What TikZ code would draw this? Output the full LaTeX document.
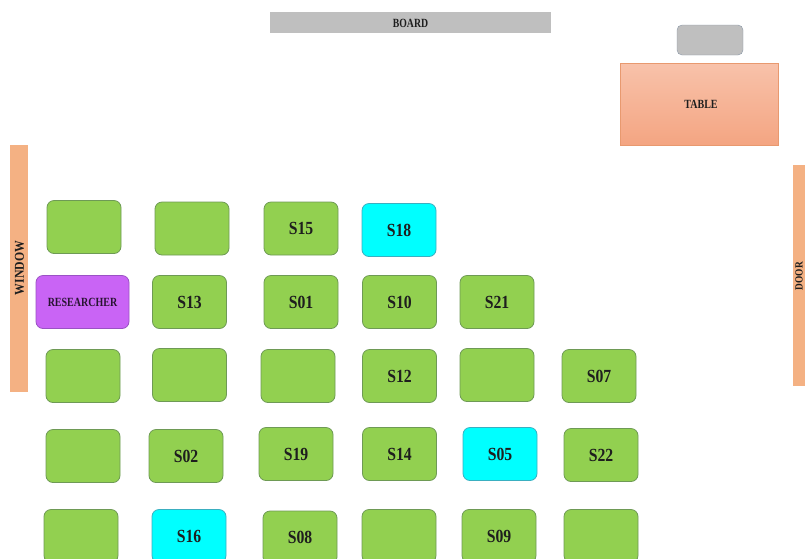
\documentclass[tikz,border=0pt]{standalone}
\usepackage{fontspec}
\setmainfont{Liberation Serif}
\definecolor{seatgreen}{HTML}{92D050}
\definecolor{seatedge}{HTML}{6E9A55}
\definecolor{seatcyan}{HTML}{00FFFF}
\definecolor{cyanedge}{HTML}{3AAFC0}
\definecolor{respurple}{HTML}{C964F5}
\definecolor{puredge}{HTML}{9A52C4}
\definecolor{boardgray}{HTML}{BFBFBF}
\definecolor{grayedge}{HTML}{8A97A6}
\definecolor{salmon}{HTML}{F4B183}
\definecolor{tabtop}{HTML}{F8C2AA}
\definecolor{tabbot}{HTML}{F4A582}
\definecolor{tabedge}{HTML}{E8996F}
\definecolor{txt}{HTML}{1E1E1E}
\newcommand{\cond}[1]{\scalebox{0.85}[1]{#1}}
\tikzset{
  seat/.style={draw=seatedge, fill=seatgreen, line width=0.8pt, rounded corners=7pt,
    minimum width=74pt, minimum height=53pt, inner sep=0pt, text=txt,
    font=\fontsize{18.5}{20}\selectfont\bfseries},
  cseat/.style={seat, draw=cyanedge, fill=seatcyan},
  labeltext/.style={text=txt, font=\fontsize{12.5}{14}\selectfont\bfseries, inner sep=0pt},
}
\begin{document}
\begin{tikzpicture}[x=1pt,y=-1pt]
\useasboundingbox (0,0) rectangle (805,558);
\clip (0,0) rectangle (805,558);
% board
\node[fill=boardgray, minimum width=281pt, minimum height=21pt, inner sep=0pt] (board) at (410.5,22.5) {};
\node[labeltext] (boardlbl) at (410.5,23) {\scalebox{0.78}[1]{BOARD}};
% teacher seat and table
\node[draw=grayedge, fill=boardgray, rounded corners=5pt, minimum width=66pt, minimum height=30pt, inner sep=0pt] (tseat) at (710,40) {};
\node[draw=tabedge, top color=tabtop, bottom color=tabbot, minimum width=158pt, minimum height=82pt, inner sep=0pt] (table) at (699,104) {};
\node[labeltext] (tablelbl) at (701,104) {\scalebox{0.8}[1]{TABLE}};
% window and door
\node[fill=salmon, minimum width=18pt, minimum height=247pt, inner sep=0pt] (window) at (19,268.5) {};
\node[labeltext, rotate=90, font=\fontsize{13.5}{14}\selectfont\bfseries] (windowlbl) at (19.5,268) {\scalebox{0.87}[1]{WINDOW}};
\node[fill=salmon, minimum width=20pt, minimum height=221pt, inner sep=0pt] (door) at (803,275.5) {};
\node[labeltext, rotate=90, font=\fontsize{11}{12}\selectfont\bfseries] (doorlbl) at (799,276) {\scalebox{0.85}[1]{DOOR}};
% row 1
\node[seat] (r1a) at (84,227) {};
\node[seat] (r1b) at (192,228.5) {};
\node[seat] (s15) at (301,228.5) {\cond{S15}};
\node[cseat] (s18) at (399,230) {\cond{S18}};
% row 2
\node[seat, draw=puredge, fill=respurple, minimum width=93pt, text=black!80!respurple, font=\fontsize{12.5}{14}\selectfont\bfseries] (res) at (82.5,302) {\scalebox{0.8}[1]{RESEARCHER}};
\node[seat] (s13) at (189.5,302) {\cond{S13}};
\node[seat] (s01) at (301,302) {\cond{S01}};
\node[seat] (s10) at (399.5,302) {\cond{S10}};
\node[seat] (s21) at (497,302) {\cond{S21}};
% row 3
\node[seat] (r3a) at (83,376) {};
\node[seat] (r3b) at (189.5,375) {};
\node[seat] (r3c) at (298,376) {};
\node[seat] (s12) at (399.5,376) {\cond{S12}};
\node[seat] (r3e) at (497,375) {};
\node[seat] (s07) at (599,376) {\cond{S07}};
% row 4
\node[seat] (r4a) at (83,456) {};
\node[seat] (s02) at (186,456) {\cond{S02}};
\node[seat] (s19) at (296,454) {\cond{S19}};
\node[seat] (s14) at (399.5,454) {\cond{S14}};
\node[cseat] (s05) at (500,454) {\cond{S05}};
\node[seat] (s22) at (601,455) {\cond{S22}};
% row 5
\node[seat] (r5a) at (81,536) {};
\node[cseat] (s16) at (189,536) {\cond{S16}};
\node[seat] (s08) at (300,537.5) {\cond{S08}};
\node[seat] (r5d) at (399,536) {};
\node[seat] (s09) at (499,536) {\cond{S09}};
\node[seat] (r5f) at (601,536) {};
\end{tikzpicture}
\end{document}
